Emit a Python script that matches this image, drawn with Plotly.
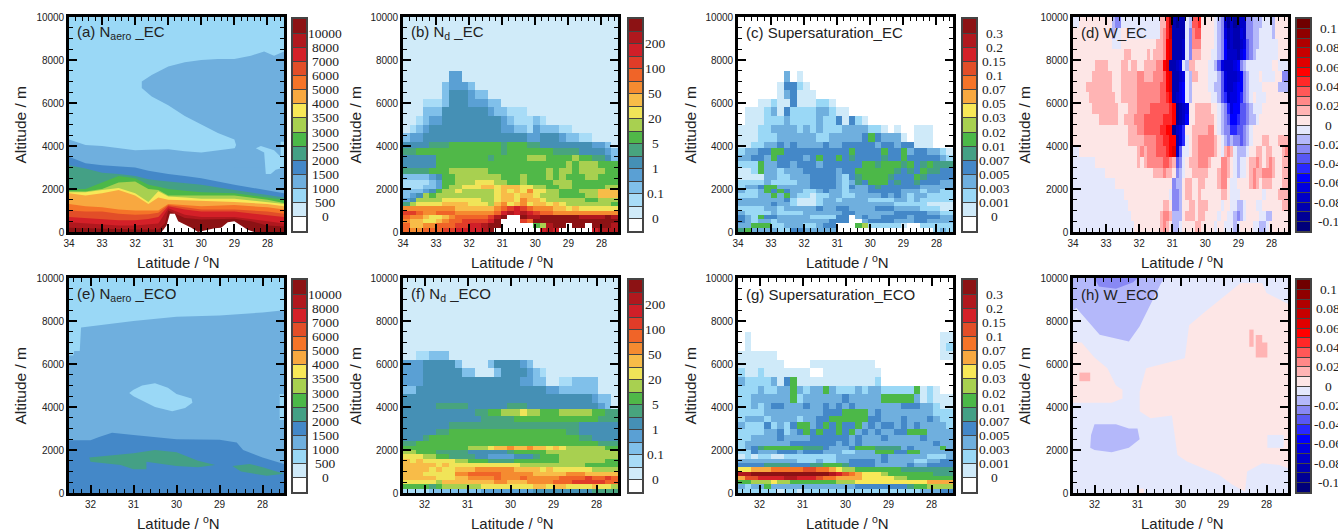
import numpy as np
import plotly.graph_objects as go

W, H = 1338, 531

# ---------- palettes and colour-bar labels ----------
PAL15 = ["#ffffff", "#cfeaf9", "#9ad8f6", "#6fafde", "#4488c8", "#44a085", "#4cb848", "#a8d050",
         "#f8e858", "#f8a840", "#f57428", "#e24e28", "#d42028", "#b0181e", "#8c1214"]
PAL17 = ["#ffffff", "#d0ebf9", "#a8dcf7", "#80c0ea", "#5aa0d4", "#4590b5", "#48a47e", "#50b848",
         "#a8d050", "#f0e458", "#f8bc48", "#f58b30", "#f06428", "#e03c28", "#d01f28", "#b0181e", "#8c1214"]
PAL22 = ["#00007a", "#000096", "#0000b0", "#0000c8", "#0000e0", "#0000ff", "#2828ff", "#5858f4",
         "#8888f4", "#b4b8fa", "#e4e8fc", "#fde6e6", "#ffb4b4", "#ff8888", "#ff5858", "#ff2828",
         "#ff0000", "#e00000", "#c80000", "#b00000", "#900000", "#700000"]
LAB_AERO = ["0", "500", "1000", "1500", "2000", "2500", "3000", "3500", "4000", "5000", "6000", "7000", "8000", "10000"]
LAB_ND = ["0", "0.1", "1", "5", "20", "50", "100", "200"]
LAB_SS = ["0", "0.001", "0.003", "0.005", "0.007", "0.01", "0.02", "0.03", "0.05", "0.07", "0.1", "0.15", "0.2", "0.3"]
LAB_W = ["-0.1", "-0.08", "-0.06", "-0.04", "-0.02", "0", "0.02", "0.04", "0.06", "0.08", "0.1"]

# ---------- altitude edges of the painted grids ----------
ROWS = [10000, 7500, 7000, 6600, 6200, 5800, 5400, 5000, 4600, 4200, 3900, 3600, 3300, 3000, 2700, 2400,
        2200, 2000, 1800, 1600, 1400, 1200, 1000, 800, 600, 400, 200, 0]
ROWS_W = [10000, 9500, 9000, 8500, 8000, 7500, 7000, 6500, 6000, 5500, 5000, 4500, 4000, 3500, 3000, 2500,
          2000, 1500, 1000, 500, 0]

# ---------- (b) Nd_EC ----------
ND_EC = [
"111111111111111111111111111111111",
"111111144111111111111111111111111",
"111111344431111111111111111111111",
"111111355543311111111111111111111",
"111222355544433111111111111111111",
"111333555555543322211111111111111",
"112344555555555432223211111111111",
"123455555555555443324333221111111",
"344555555555555555544555433221111",
"555566677777777677766555555554431",
"667777777777777677777776666555543",
"555557777777767777788877778776653",
"555557777777777777777777787888777",
"666677788888877777777787887888877",
"333345778888888777877787877788777",
"222234778889998877877778887777777",
"222334788999aa9aaa998877887777788",
"333457889888889a9a9b9988777888aaa",
"345878888888889aa9aa9888777788aaa",
"458888999999889aa9baa988888877888",
"689999aaaa9998ab9ab9aa9a988888887",
"bbbbbbbbaaaaaabcdedcbbbaa9a999999",
"ddcbbcccbbbbbbcefefedccbbbbbbbbbb",
"cbba99abcccccdfg00gffggggggffffgf",
"baa99abccddddeg000dcgggggggggggg",
"caabbcccddeefgg0000078fgg0gg0gggf",
"cbbcccddeeeefg0000000efe00000efff",
]

# ---------- (f) Nd_ECO ----------
ND_ECO = [
"111111111111111111111111111111111",
"111111111111111111111111111111111",
"111111111111111111111111111111111",
"112233311111111111111111111111111",
"444555553111135555431111111111111",
"444555555331113555543211111111111",
"444555555555555555443311223333111",
"335555555555555555555544333333111",
"555555555555555555555555555554331",
"555556666655555566655555555555431",
"555555555556677888988777888887766",
"555555555555666667777777777777666",
"555555566666666666666666666555555",
"555556677777777777777777766555555",
"555677777777777777777777777665555",
"667777777777777777777777777777666",
"77777777778889aabaabaa9a988888877",
"887776666655555567777788888888888",
"999887766665544445556777888888888",
"a9a999998877766667777777888888877",
"aaaaa9a9999999999988888888887777",
"aaaa9a99aaabbbbbbaaaa9a9999998888",
"aaa99999bbcccccbbbbbaaaaabbbaaaaa",
"aaaaa999aabbbbcbbbcbbbbbccccdccdc",
"999998aaaaaaaabbaaabbbbcccdddddcc",
"77776788888899999999aa9aa9999a998",
"222233333333444444445555555556666",
]

# ---------- (c) Supersaturation_EC ----------
SS_EC = [
"000000000000000000000000000000000",
"000000030100000000000000000000000",
"000000144210000000000000000000000",
"000000134111000000000000000000000",
"000112114111221000000000000000000",
"011123142222332110000000000000000",
"011122232222322414210000000000000",
"111223333232322233332210100111000",
"111222333333223333346433310111000",
"112233434333343344444344344111000",
"233446644444444446444464463443321",
"334436444434644645444454464444432",
"222633443444344444466566656456555",
"112633233344444344666666545465544",
"111133223334444324566665444654444",
"222232222334444323546664544544433",
"233466333334444324334544444433333",
"322364643322343323334444433323322",
"222336363221223322333343432332222",
"333333342111233233332222332322222",
"333334332111233333333333222221111",
"222233233333433443333444333322211",
"322223222233333344333333444443322",
"432644333332222440343344443444433",
"432332333333334440034444333443333",
"336662233322344000672222210022222",
"563333224433333000000000000000232",
]

# ---------- (g) Supersaturation_ECO ----------
SS_ECO = [
"000000000000000000000000000000000",
"010000000000000000000000000000011",
"010000000000000000000000000000012",
"111111000000000000000000000000011",
"111111100001111111111000000000000",
"211211111110011111111100000000000",
"322223146111111111111200000000000",
"222322336323363222323322222612100",
"223333336233333343333366666312111",
"223234433343343434333333344433211",
"222233333333344466663433333333222",
"233323333233446666664433343334322",
"322242324663464644634344343433332",
"222233423464644646343433446663333",
"223333433334444443433343333343333",
"233333334444444343433333333333433",
"234566666655543334666555534333363",
"224333444344433322333666446633333",
"121221122222222333333343333332223",
"333333333222322334444343333223344",
"444455554445566654444333334334444",
"88999aaaaabbaa9877666666655555555",
"ddeeeeeeeeeeeedcba988876666666555",
"9bbccccddcccbaa999988888776666666",
"667778776666666777888888888889999",
"323363333333333333444444445667777",
"222222122122222222222222222233344",
]

# ---------- (d) W_EC ----------
W_EC = [
"aabbbbbbbbbb988aaaaaaaaaaaaccfj2122a9eefbbbba98313123388999aaa9bb",
"bbbbbbbbbbbb9aabbaaaaaaaaaacdfi2222a8deebbbba9842322438899aaaa9bb",
"bbbbbbbbbbbbaaabbbbbbbbbbbccdgh2223a8dddbbbba9852322347899aaaaaabb",
"bbbbbbbbbbbbbbbbccbbbbbcbcccdgh2223a8cccbbbaa985333245789aaaaaaabb",
"bbbbbbbccccbbbbccbccbbccccddgh2234a9ccbbbbaa9743334589aaaaaaaabba",
"bbbbbbccccccbbbcccccddcccdddegh2234a9ccbbbaaa9743334589aaabaaaabb8",
"bbbbccccccccbbbcccccdddddddeegh2245a9bbbbbaa99743345589aaaabbbbb9",
"bbbbbccccccccbbcccccdddddddeefg2345a9bbbbbbaa9763445689abaaabbbbbb",
"bbbbbbccccccccbbbcccddddeeeeeefg1234bbcccccbba9864557789aaabbbbbbb",
"bbbbbbbbccccccbbcccdddeeeeeefffg1235bbccccccba98755677899abbbbbbbbb",
"bbbbbbbbbbbbbbbbbcccddeeeeeffgg1346bbcccccddba988667789abbbbbbbbb",
"bbbbbbbbbbbbbbbbbcccccddddeeffgg246abccdddddcba98988789abbbccbbbcc",
"aabbbbbbbbbbbbbbbbbbcdcdddeeefgh37aabccdddddcbacdca999abbccbccbbbcd",
"aaaaaaabbbbbbbbbbbbbcbcdddddeedc78abcccdddcbbbddcba9aabccdcbcdcbbcc",
"aaaaaaaaaabbbbbbbbbbbbbbbcccdccb89abbcccccbbbcddcba9aabcdccdddcbbc",
"aaaaaaaaaaaaabbbbbbbbbbbbbbbbbb899bccbbccbbbbcddbaabbbbcdcbcccbbbc",
"aaaaaaaaaaaaaaaabbbbbbbbbbbbbba889bccbbcbbbbbbccbaaabbbbbbbabbbbcc",
"aaaaaaaaaaaaaaaaabbbbbbbbbbbccb889bbccbcccbbbbabbaa99abbbaabbbbbbc",
"aaaaaaaaaaaaaaaaaabbbbbbbbbcddc999bcccbccbbbbabbaa989abbbbaa99bbbbb",
"aaaaaaaaaaaaaaaaaaabbbbbbbbcdcb99abbbbccbbbbabbaaa9abbbbaa99abbb",
]

# ---------- (a) Naero_EC: tops of the stacked classes ----------
A_LAT = [34, 33.5, 33, 32.5, 32, 31.6, 31.3, 31, 30.5, 30, 29, 28, 27.5]
A_BASE = [10000] * 13
A_TOP3 = [4300, 4050, 4000, 3900, 3800, 3830, 3850, 3850, 3750, 3700, 3900, 3900, 3900]
A_TOP4 = [3500, 3200, 3100, 3050, 3000, 2850, 2770, 2700, 2600, 2500, 2200, 1950, 1800]
A_TOP5 = [3100, 2950, 2750, 2700, 2600, 2450, 2400, 2350, 2280, 2200, 1950, 1700, 1600]
A_TOP6 = [2000, 2000, 2300, 2600, 2500, 2200, 2100, 2000, 1920, 1850, 1800, 1600, 1500]
A_TOP7 = [1900, 1880, 2000, 2300, 2350, 2000, 1950, 1700, 1700, 1700, 1700, 1500, 1350]
A_TOP8 = [1850, 1850, 1950, 2050, 1800, 1400, 1900, 1650, 1600, 1550, 1550, 1400, 1300]
A_TOP9 = [1800, 1700, 1800, 1950, 1700, 1300, 1600, 1500, 1480, 1450, 1400, 1300, 1200]
A_TOP10 = [1300, 1200, 1150, 1050, 1000, 1000, 1000, 1300, 1250, 1200, 1250, 1150, 1050]
A_TOP11 = [1000, 950, 950, 850, 800, 820, 900, 1250, 1150, 1050, 1050, 950, 850]
A_TOP12 = [700, 650, 600, 550, 550, 600, 700, 1200, 1050, 950, 950, 800, 700]
A_TOP13 = [450, 400, 350, 300, 300, 350, 400, 1100, 800, 700, 700, 500, 400]
A_UP_LAT = [27.5, 27.8, 28.1, 28.5, 29, 29.5, 30, 30.5, 31, 31.5, 31.8, 31.8, 31.5, 31, 30.5, 30, 29.5, 29, 28.95, 29, 29, 27.5]
A_UP_ALT = [8400, 8200, 8400, 8200, 8050, 8050, 8000, 7900, 7700, 7300, 7000, 6700, 6300, 5900, 5400, 5000, 4600, 4300, 4050, 3850, 3000, 3000]
A_PATCH_LAT = [27.6, 27.6, 27.8, 28.0, 28.2, 28.35, 28.1, 28.05, 27.9, 27.75, 27.5, 27.5]
A_PATCH_ALT = [4200, 3500, 3800, 3900, 4000, 3900, 3700, 2700, 2700, 2900, 3000, 4200]
A_T14_LAT = [34, 33, 32, 31.3, 31.1, 31, 30.5, 30, 29.5, 29, 28.5, 28, 27.5]
A_T14_ALT = [200, 150, 120, 120, 400, 1000, 650, 580, 600, 620, 500, 300, 250]
A_GND_LAT = [31.2, 31.05, 30.95, 30.8, 30.7, 30.5, 30.3, 30.1, 29.9, 29.6, 29.4, 29.2, 29, 28.85, 28.6, 28.4]
A_GND_ALT = [0, 300, 850, 850, 500, 350, 200, 0, 80, 180, 200, 450, 500, 350, 100, 0]

# ---------- (e) Naero_ECO ----------
E_T3_LAT = [32.5, 32.4, 32.38, 32.25, 32.22, 31.8, 31, 30, 29, 28, 27.5]
E_T3_ALT = [6400, 6400, 6600, 6600, 7700, 7800, 8000, 8200, 8250, 8400, 8500]
E_T4_LAT = [32.5, 32, 31.8, 31.5, 31, 30, 29, 28.6, 28.45, 28, 27.5]
E_T4_ALT = [2450, 2450, 2600, 2800, 2700, 2500, 2480, 2350, 2000, 1650, 1350]
E_HOLE_LAT = [31.1, 31, 30.8, 30.5, 30.2, 30, 29.65, 29.63, 29.8, 30.1, 30.5, 30.8, 31]
E_HOLE_ALT = [4650, 4800, 5000, 5100, 4900, 4600, 4400, 4200, 3950, 3800, 4000, 4300, 4500]
E_STRIP_LAT = [27.6, 27.5, 27.5, 27.6]
E_STRIP_ALT = [3400, 3400, 4600, 4600]
E_B1_LAT = [32.03, 31.5, 31, 30.5, 30, 29.5, 29.1, 29.5, 30, 30.5, 30.7, 30.7, 31, 31.3, 32]
E_B1_ALT = [1650, 1750, 1850, 2000, 1900, 1500, 1300, 1200, 1250, 1400, 1450, 1100, 1100, 1300, 1450]
E_B2_LAT = [28.7, 28.3, 28, 27.5, 27.9, 28.5]
E_B2_ALT = [1250, 1350, 1200, 900, 800, 1000]

# ---------- (h) W_ECO ----------
H_P_LAT = [27.5, 28, 28.1, 28.6, 29.45, 29.8, 29.9, 30.8, 30.95, 30.95, 30.7, 30.2, 30.07, 29.85, 29.1, 28.8, 28.5, 28.45, 28.1, 27.7, 27.5]
H_P_ALT = [8800, 9300, 9770, 9770, 8400, 7800, 6270, 5800, 4700, 3800, 3480, 3600, 1770, 1460, 840, 400, 60, 1000, 1380, 1300, 1150]
H_L_LAT = [32.5, 32.3, 32, 31.7, 31.5, 31.35, 31.35, 31.6, 32, 32.5]
H_L_ALT = [7000, 7000, 6300, 5800, 5000, 4800, 4400, 4200, 4200, 4200]
H_C_LAT = [31.02, 30.85, 30.85, 31.02]
H_C_ALT = [0, 0, 200, 200]
H_TOP_LAT = [32.5, 32.42, 31.88, 31.2, 30.95, 30.7, 30.45, 30.35, 32.5]
H_TOP_ALT = [8500, 8600, 7360, 7050, 7750, 8760, 9770, 10000, 10000]
H_TOPD_LAT = [32, 31.9, 31.5, 31.1, 31]
H_TOPD_ALT = [10000, 9600, 9500, 9800, 10000]
H_LOW_LAT = [32.1, 32.08, 32, 31.5, 31.2, 31, 30.95, 31.2, 31.6, 32]
H_LOW_ALT = [2100, 2700, 3200, 3200, 3000, 3000, 2500, 2100, 1900, 2000]
H_R1_LAT = [32.35, 32.1, 32.1, 32.35]
H_R1_ALT = [5200, 5200, 5600, 5600]
H_R2_LAT = [28.4, 28.3, 28.3, 28.4]
H_R2_ALT = [6800, 6800, 7600, 7600]
H_R3_LAT = [28.25, 28.1, 28.1, 27.98, 27.98, 28.25]
H_R3_ALT = [7350, 7350, 7000, 7000, 6300, 6300]
H_BL_LAT = [27.98, 27.6, 27.6, 27.98]
H_BL_ALT = [2100, 2100, 2700, 2700]

TITLE_Y = "Altitude / m"
TITLE_X = "Latitude / <sup>o</sup>N"
NAMES = ["(a) N<sub>aero</sub> _EC", "(b) N<sub>d</sub> _EC", "(c) Supersaturation_EC", "(d) W_EC",
         "(e) N<sub>aero</sub> _ECO", "(f) N<sub>d</sub> _ECO", "(g) Supersaturation_ECO", "(h) W_ECO"]

# ---------- layout geometry (pixels) ----------
LEFTS = [69, 403, 738, 1073]
PW = 215
TOPS = [17, 278]
PH = 215
CB_OFF = [224, 226, 225, 224]
CB_LAB = [19, 13, 18, 18]
YTITLE = [20, 355, 690, 1024]
XRANGE = [[34, 27.5], [32.5, 27.5]]

fig = go.Figure()
layout = {}
ANN = []
CODES = "0123456789abcdefghijkl"
TXT = "#222222"


def cscale(pal):
    n = len(pal)
    out = []
    for i, c in enumerate(pal):
        out += [[i / n, c], [(i + 1) / n, c]]
    return out


def frac_x(px):
    return px / W


def frac_y(px):
    return 1 - px / H


def heat(rows, pal, edges, xr, ax):
    ncol = max(len(r) for r in rows)
    z = []
    for r in rows:
        r = r.ljust(ncol, r[-1])
        z.append([CODES.index(ch) + 0.5 for ch in r])
    xe = np.linspace(xr[0], xr[1], ncol + 1)
    fig.add_trace(go.Heatmap(z=z, x=xe, y=edges, zmin=0, zmax=len(pal), colorscale=cscale(pal),
                             showscale=False, hoverinfo="skip", xaxis=ax[0], yaxis=ax[1]))


def poly(lat, alt, color, ax, closed=True):
    kw = dict(fill="toself") if closed else dict(fill="tozeroy")
    fig.add_trace(go.Scatter(x=lat, y=alt, mode="lines", line=dict(width=0, color=color), fillcolor=color,
                             hoverinfo="skip", showlegend=False, xaxis=ax[0], yaxis=ax[1], **kw))


def add_axes(idx, left, top, xr):
    s = "" if idx == 1 else str(idx)
    common = dict(showline=True, mirror="ticks", linecolor="#000000", linewidth=2.6, ticks="inside",
                  tickcolor="#000000", tickwidth=2, ticklen=8, showgrid=False, zeroline=False,
                  layer="above traces", tickfont=dict(family="Liberation Sans", size=10, color=TXT))
    layout["xaxis" + s] = dict(domain=[frac_x(left), frac_x(left + PW)], range=xr, anchor="y" + s,
                               dtick=1, tick0=28,
                               minor=dict(ticks="inside", ticklen=4, tickwidth=1.4, tickcolor="#000000", dtick=0.2, tick0=28),
                               **common)
    layout["yaxis" + s] = dict(domain=[frac_y(top + PH), frac_y(top)], range=[0, 10000], anchor="x" + s,
                               dtick=2000, tick0=0, tickformat="d",
                               minor=dict(ticks="inside", ticklen=4, tickwidth=1.4, tickcolor="#000000", dtick=500, tick0=0),
                               **common)
    return ("x" + s, "y" + s)


def add_cbar(idx, left, top, pal, labels, lab_off):
    s = str(idx)
    ax = ("x" + s, "y" + s)
    n = len(pal)
    z = [[i + 0.5] for i in range(n)]
    fig.add_trace(go.Heatmap(z=z, x=[0, 1], y=list(range(n + 1)), zmin=0, zmax=n, colorscale=cscale(pal),
                             showscale=False, hoverinfo="skip", xaxis=ax[0], yaxis=ax[1]))
    layout["xaxis" + s] = dict(domain=[frac_x(left), frac_x(left + 13)], range=[0, 1], anchor="y" + s,
                               showticklabels=False, ticks="", showgrid=False, zeroline=False,
                               showline=True, mirror=True, linecolor="#444444", linewidth=1.6, layer="above traces")
    step = 2 if n in (17, 22) else 1
    layout["yaxis" + s] = dict(domain=[frac_y(top + PH - 1), frac_y(top + 2)], range=[0, n], anchor="x" + s,
                               side="right", tickmode="array", tickvals=list(range(1, n)), showticklabels=False,
                               ticks="inside", ticklen=13, tickwidth=1.2, tickcolor="#444444", showgrid=False, zeroline=False,
                               showline=True, mirror=True, linecolor="#444444", linewidth=1.6, layer="above traces")
    for k, lab in enumerate(labels):
        ANN.append(dict(text=lab, x=frac_x(left + 13 + lab_off), y=1 + step * k, xref="paper", yref=ax[1],
                        xanchor="center", yanchor="middle", showarrow=False,
                        font=dict(family="Liberation Serif", size=13.5, color=TXT)))


PAN_PAL = [PAL15, PAL17, PAL15, PAL22, PAL15, PAL17, PAL15, PAL22]
PAN_LAB = [LAB_AERO, LAB_ND, LAB_SS, LAB_W, LAB_AERO, LAB_ND, LAB_SS, LAB_W]

for r in range(2):
    for c in range(4):
        i = r * 4 + c
        idx = i + 1
        left, top = LEFTS[c], TOPS[r]
        ax = add_axes(idx, left, top, XRANGE[r])
        xr = XRANGE[r]
        if i == 0:
            poly(A_LAT, A_BASE, PAL15[2], ax, False)
            poly(A_LAT, A_TOP3, PAL15[3], ax, False)
            poly(A_UP_LAT, A_UP_ALT, PAL15[3], ax)
            poly(A_PATCH_LAT, A_PATCH_ALT, PAL15[2], ax)
            poly(A_LAT, A_TOP4, PAL15[4], ax, False)
            poly(A_LAT, A_TOP5, PAL15[5], ax, False)
            poly(A_LAT, A_TOP6, PAL15[6], ax, False)
            poly(A_LAT, A_TOP7, PAL15[7], ax, False)
            poly(A_LAT, A_TOP8, PAL15[8], ax, False)
            poly(A_LAT, A_TOP9, PAL15[9], ax, False)
            poly(A_LAT, A_TOP10, PAL15[10], ax, False)
            poly(A_LAT, A_TOP11, PAL15[11], ax, False)
            poly(A_LAT, A_TOP12, PAL15[12], ax, False)
            poly(A_LAT, A_TOP13, PAL15[13], ax, False)
            poly(A_T14_LAT, A_T14_ALT, PAL15[14], ax, False)
            poly(A_GND_LAT, A_GND_ALT, "#ffffff", ax)
        elif i == 1:
            heat(ND_EC, PAL17, ROWS, xr, ax)
        elif i == 2:
            heat(SS_EC, PAL15, ROWS, xr, ax)
        elif i == 3:
            heat(W_EC, PAL22, ROWS_W, xr, ax)
        elif i == 4:
            poly(xr, [10000, 10000], PAL15[2], ax, False)
            poly(E_T3_LAT, E_T3_ALT, PAL15[3], ax, False)
            poly(E_HOLE_LAT, E_HOLE_ALT, PAL15[2], ax)
            poly(E_STRIP_LAT, E_STRIP_ALT, PAL15[2], ax)
            poly(E_T4_LAT, E_T4_ALT, PAL15[4], ax, False)
            poly(E_B1_LAT, E_B1_ALT, PAL15[5], ax)
            poly(E_B2_LAT, E_B2_ALT, PAL15[5], ax)
        elif i == 5:
            heat(ND_ECO, PAL17, ROWS, xr, ax)
        elif i == 6:
            heat(SS_ECO, PAL15, ROWS, xr, ax)
        else:
            poly(xr, [10000, 10000], PAL22[10], ax, False)
            poly(H_P_LAT, H_P_ALT, PAL22[11], ax)
            poly(H_L_LAT, H_L_ALT, PAL22[11], ax)
            poly(H_C_LAT, H_C_ALT, PAL22[11], ax)
            poly(H_TOP_LAT, H_TOP_ALT, PAL22[9], ax)
            poly(H_TOPD_LAT, H_TOPD_ALT, PAL22[8], ax)
            poly(H_LOW_LAT, H_LOW_ALT, PAL22[9], ax)
            poly(H_R1_LAT, H_R1_ALT, PAL22[12], ax)
            poly(H_R2_LAT, H_R2_ALT, PAL22[12], ax)
            poly(H_R3_LAT, H_R3_ALT, PAL22[12], ax)
            poly(H_BL_LAT, H_BL_ALT, PAL22[10], ax)
        add_cbar(idx + 8, left + CB_OFF[c], top, PAN_PAL[i], PAN_LAB[i], CB_LAB[c])
        ANN.append(dict(text=NAMES[i], x=frac_x(left + 6), y=frac_y(top + 16), xref="paper", yref="paper",
                        xanchor="left", yanchor="middle", showarrow=False,
                        font=dict(family="Liberation Sans", size=15, color=TXT)))
        ANN.append(dict(text=TITLE_Y, x=frac_x(YTITLE[c]), y=frac_y(top + PH / 2), xref="paper", yref="paper",
                        xanchor="center", yanchor="middle", textangle=-90, showarrow=False,
                        font=dict(family="Liberation Sans", size=15.5, color=TXT)))
        ANN.append(dict(text=TITLE_X, x=frac_x(left + PW / 2 + 2), y=frac_y(top + PH + 29), xref="paper", yref="paper",
                        xanchor="center", yanchor="middle", showarrow=False,
                        font=dict(family="Liberation Sans", size=15, color=TXT)))

fig.update_layout(width=W, height=H, margin=dict(l=0, r=0, t=0, b=0, autoexpand=False), paper_bgcolor="white",
                  plot_bgcolor="white", showlegend=False, annotations=ANN, **layout)
fig.write_html("out.html", config={"displayModeBar": False},
               post_script="document.body.style.margin='0';document.body.style.overflow='hidden';")
